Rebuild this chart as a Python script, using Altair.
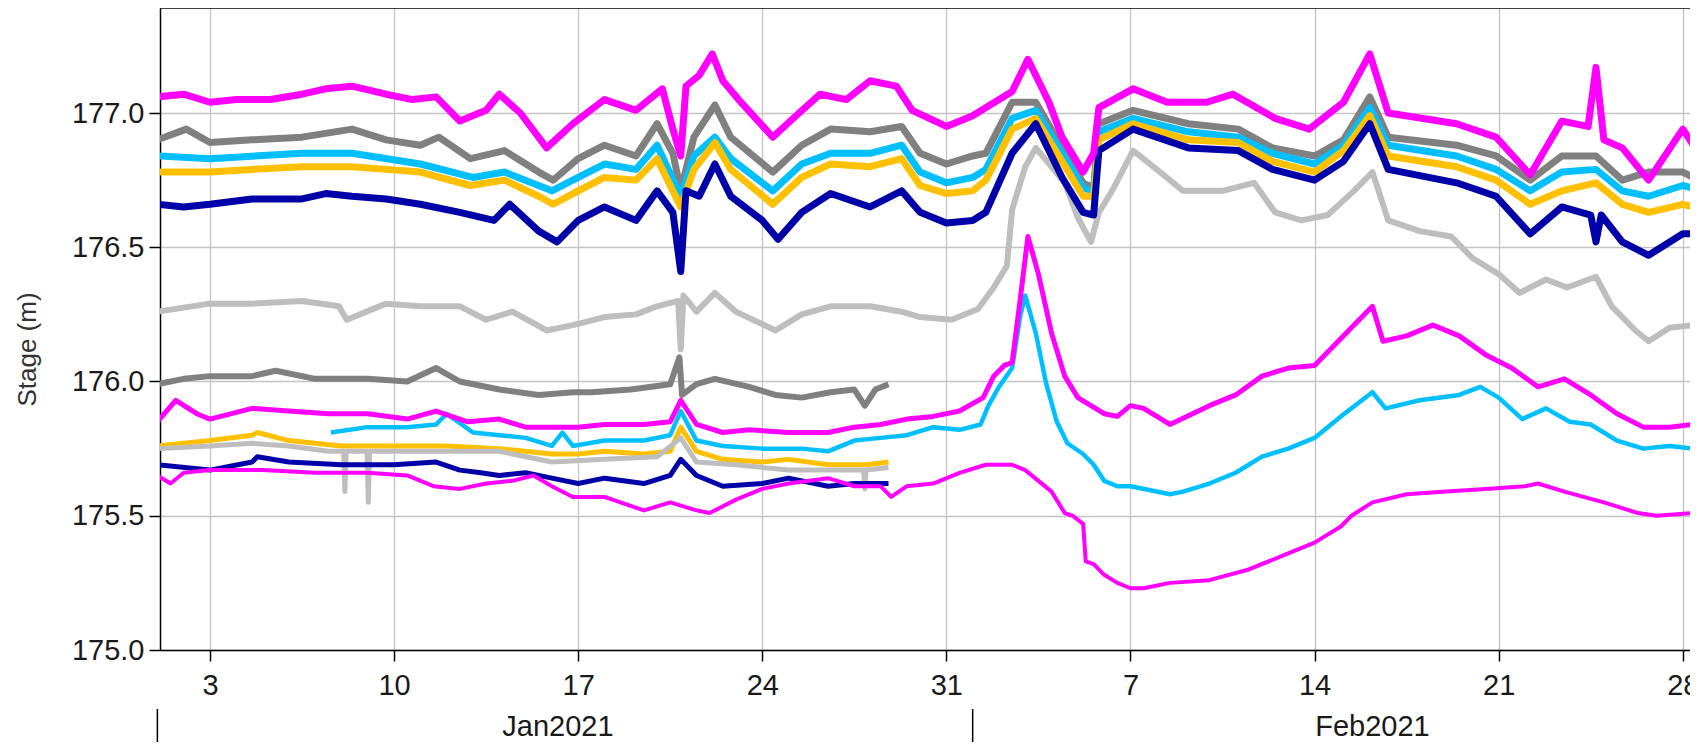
import altair as alt
import pandas as pd

# ---------------- data: days since 2021-01-01 00:00 UTC, stage (m) ----------------
mag_hi_days = [0, 1, 2, 3, 4.3, 5.5, 6.4, 7.4, 8.7, 9.7, 10.6, 11.5, 12.5, 13.0, 13.8, 14.8, 15.8, 17.0, 18.2, 19.2,
               19.6, 19.9, 20.1, 20.6, 21.1, 21.5, 22.1, 23.4, 24.4, 25.2, 26.2, 27.1, 28.1, 28.7, 30.0, 31.0, 32.5, 33.1,
               33.9, 34.4, 35.2, 35.6, 35.8, 37.1, 38.4, 39.9, 40.9, 42.5, 43.8, 45.1, 46.1, 46.8, 49.4, 50.9, 52.2, 53.4,
               54.4, 54.7, 55.0, 55.7, 56.7, 58.0, 58.4]
mag_hi_stage = [177.06, 177.07, 177.04, 177.05, 177.05, 177.07, 177.09, 177.1, 177.07, 177.05, 177.06, 176.97, 177.01,
                177.07, 177.0, 176.87, 176.96, 177.05, 177.01, 177.09, 176.94, 176.84, 177.1, 177.14, 177.22, 177.12,
                177.05, 176.91, 177.0, 177.07, 177.05, 177.12, 177.1, 177.01, 176.95, 176.99, 177.08, 177.2, 177.04,
                176.91, 176.78, 176.85, 177.02, 177.09, 177.04, 177.04, 177.07, 176.98, 176.94, 177.04, 177.22, 177.0,
                176.96, 176.91, 176.77, 176.97, 176.95, 177.17, 176.9, 176.87, 176.75, 176.94, 176.88]

gray_hi_days = [0, 1.1, 2, 3.6, 5.5, 7.4, 8.7, 10.0, 10.7, 11.9, 13.2, 14.5, 15.05, 16, 17, 18.2, 19, 19.6, 19.9, 20.4,
                21.2, 21.8, 23.4, 24.5, 25.6, 27.1, 28.3, 29, 30, 31, 31.5, 32.5, 33.4, 34.4, 35.2, 35.6, 35.8, 37.1,
                39.2, 41.1, 42.4, 44, 45.1, 46.1, 46.8, 49.4, 50.9, 52.2, 53.4, 54.7, 55.7, 56.7, 58, 58.4]
gray_hi_stage = [176.9, 176.94, 176.89, 176.9, 176.91, 176.94, 176.9, 176.88, 176.91, 176.83, 176.86, 176.78, 176.75,
                 176.83, 176.88, 176.84, 176.96, 176.85, 176.71, 176.91, 177.03, 176.91, 176.78, 176.88, 176.94, 176.93,
                 176.95, 176.85, 176.81, 176.84, 176.85, 177.04, 177.04, 176.87, 176.74, 176.72, 176.96, 177.01, 176.96,
                 176.94, 176.87, 176.84, 176.9, 177.06, 176.91, 176.88, 176.84, 176.75, 176.84, 176.84, 176.75, 176.78,
                 176.78, 176.76]

cyan_hi_days = [0, 2, 5.5, 7.4, 10, 12, 13.2, 15, 16, 17, 18.2, 19, 19.9, 20.4, 21.2, 21.8, 23.4, 24.5, 25.6, 27.1,
                28.3, 29, 30, 31, 31.5, 32.5, 33.4, 34.4, 35.2, 35.6, 35.8, 37.1, 39.2, 41.1, 42.4, 44, 45.1, 46.1,
                46.8, 49.4, 50.9, 52.2, 53.4, 54.7, 55.7, 56.7, 58, 58.4]
cyan_hi_stage = [176.84, 176.83, 176.85, 176.85, 176.81, 176.76, 176.78, 176.71, 176.76, 176.81, 176.79, 176.88,
                 176.69, 176.84, 176.91, 176.83, 176.71, 176.81, 176.85, 176.85, 176.88, 176.78, 176.74, 176.76, 176.79,
                 176.98, 177.01, 176.85, 176.72, 176.71, 176.93, 176.98, 176.93, 176.91, 176.85, 176.81, 176.88, 177.02,
                 176.88, 176.84, 176.79, 176.71, 176.78, 176.79, 176.71, 176.69, 176.73, 176.72]

gold_hi_days = [0, 2, 3.6, 5.5, 7.4, 8.7, 10, 11.9, 13.2, 14.5, 15.05, 16, 17, 18.2, 19, 19.9, 20.4, 21.2, 21.8, 23.4,
                24.5, 25.6, 27.1, 28.3, 29, 30, 31, 31.5, 32.5, 33.4, 34.4, 35.2, 35.6, 35.8, 37.1, 39.2, 41.1, 42.4,
                44, 45.1, 46.1, 46.8, 49.4, 50.9, 52.2, 53.4, 54.7, 55.7, 56.7, 58, 58.4]
gold_hi_stage = [176.78, 176.78, 176.79, 176.8, 176.8, 176.79, 176.78, 176.73, 176.75, 176.69, 176.66, 176.71, 176.76,
                 176.75, 176.83, 176.65, 176.79, 176.89, 176.79, 176.66, 176.76, 176.81, 176.8, 176.83, 176.73, 176.7,
                 176.71, 176.75, 176.94, 176.98, 176.82, 176.69, 176.69, 176.9, 176.96, 176.9, 176.89, 176.82, 176.78,
                 176.86, 176.99, 176.84, 176.8, 176.75, 176.66, 176.71, 176.74, 176.66, 176.63, 176.66, 176.65]

blue_hi_days = [0, 1, 2, 3.6, 5.5, 6.4, 7.4, 8.7, 10, 11.5, 12.8, 13.4, 14.5, 15.2, 16, 17, 18.2, 19, 19.6, 19.9, 20.1,
                20.6, 21.2, 21.8, 23, 23.6, 24.5, 25.6, 27.1, 28.3, 29, 30, 31, 31.5, 32.5, 33.4, 34.4, 35.2, 35.6, 35.8,
                37.1, 39.2, 41.1, 42.4, 44, 45.1, 46.1, 46.8, 49.4, 50.9, 52.2, 53.4, 54.5, 54.7, 54.9, 55.7, 56.7, 58,
                58.4]
blue_hi_stage = [176.66, 176.65, 176.66, 176.68, 176.68, 176.7, 176.69, 176.68, 176.66, 176.63, 176.6, 176.66, 176.56,
                 176.52, 176.6, 176.65, 176.6, 176.71, 176.63, 176.41, 176.71, 176.69, 176.81, 176.69, 176.6, 176.53,
                 176.63, 176.7, 176.65, 176.71, 176.63, 176.59, 176.6, 176.63, 176.85, 176.96, 176.76, 176.63, 176.62,
                 176.86, 176.94, 176.87, 176.86, 176.79, 176.75, 176.82, 176.96, 176.79, 176.74, 176.69, 176.55, 176.65,
                 176.62, 176.52, 176.62, 176.52, 176.47, 176.55, 176.55]

lgray_mid_days = [0, 2, 3.6, 5.5, 6.9, 7.2, 8.7, 10, 11.5, 12.5, 13.5, 14.8, 15.8, 17, 18.2, 19, 19.8, 19.9, 20.0, 20.5,
                  21.2, 22, 23.5, 24.5, 25.6, 27.1, 28.3, 29, 30.2, 31.2, 31.8, 32.3, 32.5, 33, 33.4, 34, 34.5, 35, 35.5,
                  35.8, 36.3, 37.1, 38, 39, 40.5, 41.7, 42.5, 43.5, 44.5, 45.5, 46.2, 46.8, 48, 49.2, 50, 51, 51.8, 52.8,
                  53.6, 54.7, 55.3, 56.2, 56.7, 57.5, 58.4]
lgray_mid_stage = [176.26, 176.29, 176.29, 176.3, 176.28, 176.23, 176.29, 176.28, 176.28, 176.23, 176.26, 176.19,
                   176.21, 176.24, 176.25, 176.28, 176.3, 176.12, 176.32, 176.26, 176.33, 176.26, 176.19, 176.25, 176.28,
                   176.28, 176.26, 176.24, 176.23, 176.27, 176.35, 176.43, 176.64, 176.8, 176.87, 176.8, 176.74, 176.61,
                   176.52, 176.63, 176.71, 176.86, 176.79, 176.71, 176.71, 176.74, 176.63, 176.6, 176.62, 176.71, 176.78,
                   176.6, 176.56, 176.54, 176.46, 176.4, 176.33, 176.38, 176.35, 176.39, 176.28, 176.19, 176.15, 176.2,
                   176.21]

gray_lo_days = [0, 1, 2, 3.6, 4.5, 6, 8, 9.5, 10.6, 11.5, 13, 14.5, 15.8, 16.5, 18, 19.5, 19.85, 19.95, 20.5, 21.2,
                22.5, 23.5, 24.5, 25.6, 26.5, 26.9, 27.3, 27.8]
gray_lo_stage = [175.99, 176.01, 176.02, 176.02, 176.04, 176.01, 176.01, 176.0, 176.05, 176.0, 175.97, 175.95, 175.96,
                 175.96, 175.97, 175.99, 176.09, 175.95, 175.99, 176.01, 175.98, 175.95, 175.94, 175.96, 175.97, 175.91,
                 175.97, 175.99]

mag_mid_days = [0, 0.7, 1.5, 2, 3.6, 5, 6.5, 8, 9.5, 10.6, 11.8, 13, 14, 15, 16, 17, 18.5, 19.5, 19.9, 20.5, 21.5, 22.5,
                24, 25.5, 26.5, 27.5, 28.5, 29.5, 30.5, 31.4, 31.8, 32.2, 32.5, 32.8, 33.1, 33.5, 34, 34.5, 35, 35.5, 36,
                36.5, 37, 37.5, 38.5, 40, 41, 42, 43, 44, 45, 46.2, 46.6, 47.5, 48.5, 49.5, 50.5, 51.5, 52.5, 53.5, 54.5,
                55.5, 56.5, 57.5, 58.4]
mag_mid_stage = [175.85, 175.93, 175.88, 175.86, 175.9, 175.89, 175.88, 175.88, 175.86, 175.89, 175.85, 175.86, 175.83,
                 175.83, 175.83, 175.84, 175.84, 175.85, 175.93, 175.84, 175.81, 175.82, 175.81, 175.81, 175.83, 175.84,
                 175.86, 175.87, 175.89, 175.94, 176.02, 176.06, 176.07, 176.3, 176.54, 176.4, 176.18, 176.02, 175.94,
                 175.91, 175.88, 175.87, 175.91, 175.9, 175.84, 175.91, 175.95, 176.02, 176.05, 176.06, 176.16, 176.28,
                 176.15, 176.17, 176.21, 176.17, 176.1, 176.05, 175.98, 176.01, 175.95, 175.88, 175.83, 175.83, 175.84]

cyan_lo_days = [6.6, 8, 9.5, 10.6, 11, 12, 13, 14, 15, 15.4, 15.8, 17, 18.5, 19.5, 19.9, 20.5, 21.5, 23, 24.5, 25.5,
                26.5, 27.5, 28.5, 29.5, 30.5, 31.3, 31.6, 32, 32.5, 32.8, 33.0, 33.4, 33.8, 34.2, 34.6, 35.2, 35.6, 36,
                36.5, 37, 38.5, 39, 40, 41, 42, 43, 44, 45, 46.2, 46.7, 48, 49.5, 50.3, 51, 51.9, 52.8, 53.7, 54.5, 55.5,
                56.5, 57.5, 58.4]
cyan_lo_stage = [175.81, 175.83, 175.83, 175.84, 175.88, 175.81, 175.8, 175.79, 175.76, 175.81, 175.76, 175.78, 175.78,
                 175.8, 175.89, 175.78, 175.76, 175.75, 175.75, 175.74, 175.78, 175.79, 175.8, 175.83, 175.82, 175.84,
                 175.91, 175.98, 176.05, 176.24, 176.32, 176.18, 175.99, 175.85, 175.77, 175.73, 175.69, 175.63, 175.61,
                 175.61, 175.58, 175.59, 175.62, 175.66, 175.72, 175.75, 175.79, 175.87, 175.96, 175.9, 175.93, 175.95,
                 175.98, 175.94, 175.86, 175.9, 175.85, 175.84, 175.78, 175.75, 175.76, 175.75]

gold_lo_days = [0, 2, 3.6, 3.8, 5, 7, 9, 11, 13, 15, 16, 17, 18.5, 19.5, 19.9, 20.5, 21.5, 23, 24, 25.5, 27, 27.8]
gold_lo_stage = [175.76, 175.78, 175.8, 175.81, 175.78, 175.76, 175.76, 175.76, 175.75, 175.73, 175.73, 175.74, 175.73,
                 175.74, 175.83, 175.74, 175.71, 175.7, 175.71, 175.69, 175.69, 175.7]

lgray_lo_days = [0, 2, 3.6, 5, 6.5, 7.08, 7.13, 7.18, 7.97, 8.02, 8.07, 9, 11, 13, 15, 17, 19, 19.9, 20.5, 22, 24, 26,
                 26.85, 26.9, 26.95, 27.8]
lgray_lo_stage = [175.75, 175.76, 175.77, 175.76, 175.74, 175.74, 175.59, 175.74, 175.74, 175.55, 175.74, 175.74,
                  175.74, 175.74, 175.7, 175.71, 175.72, 175.79, 175.7, 175.69, 175.67, 175.67, 175.67, 175.6, 175.67,
                  175.68]

blue_lo_days = [0, 2, 3.6, 3.8, 5, 7, 9, 10.6, 11.5, 12.3, 13, 14, 15, 16, 17, 18.5, 19.5, 19.9, 20.5, 21.5, 23, 24,
                25.5, 26.5, 27.8]
blue_lo_stage = [175.69, 175.67, 175.7, 175.72, 175.7, 175.69, 175.69, 175.7, 175.67, 175.66, 175.65, 175.66, 175.64,
                 175.62, 175.64, 175.62, 175.65, 175.71, 175.65, 175.61, 175.62, 175.64, 175.61, 175.62, 175.62]

mag_lo_days = [0, 0.5, 1, 2, 4, 6, 8, 9.5, 10.5, 11.5, 12.5, 13.5, 14.3, 15, 15.8, 17, 18.5, 19.5, 20.5, 21, 22, 23, 24,
               25.5, 26.5, 27.5, 27.9, 28.5, 29.5, 30.5, 31.5, 32.5, 33, 33.5, 34, 34.5, 34.8, 35.2, 35.3, 35.6, 36, 36.5,
               37, 37.5, 38.5, 40, 41.5, 43, 44, 45, 45.4, 46.2, 47.5, 49, 50.5, 52, 52.5, 53.5, 55, 56.3, 57, 58.4]
mag_lo_stage = [175.65, 175.62, 175.66, 175.67, 175.67, 175.66, 175.66, 175.65, 175.61, 175.6, 175.62, 175.63, 175.65,
                175.61, 175.57, 175.57, 175.52, 175.55, 175.52, 175.51, 175.56, 175.6, 175.62, 175.64, 175.61, 175.61,
                175.57, 175.61, 175.62, 175.66, 175.69, 175.69, 175.67, 175.63, 175.59, 175.51, 175.5, 175.47, 175.33,
                175.32, 175.28, 175.25, 175.23, 175.23, 175.25, 175.26, 175.3, 175.36, 175.4, 175.46, 175.5, 175.55,
                175.58, 175.59, 175.6, 175.61, 175.62, 175.59, 175.55, 175.51, 175.5, 175.51]

# axis labels / ticks
tick_dates = ["2021-01-03", "2021-01-10", "2021-01-17", "2021-01-24", "2021-01-31",
              "2021-02-07", "2021-02-14", "2021-02-21", "2021-02-28"]
y_ticks = [175.0, 175.5, 176.0, 176.5, 177.0]
month_labels = ["Jan2021", "Feb2021"]
month_label_days = [15.23, 46.2]
month_starts = ["2021-01-01", "2021-02-01"]

# ---------------- helpers ----------------
BASE = pd.Timestamp("2021-01-01")


def iso(d):
    return (BASE + pd.to_timedelta(d, unit="D")).strftime("%Y-%m-%dT%H:%M:%SZ")


def ms(ts):
    return int(pd.Timestamp(ts).value // 10**6)


def ms_day(d):
    return int((BASE + pd.to_timedelta(d, unit="D")).value // 10**6)


W, H = 1530, 642
FONT = "Liberation Sans"

xscale = alt.Scale(type="utc", domain=[ms_day(0.1), ms_day(0.1 + W / 26.3)], nice=False)
yscale = alt.Scale(domain=[175.0, 175.0 + H / 268.5], nice=False, zero=False)

xaxis = alt.Axis(values=[ms(t) for t in tick_dates], labelExpr="'' + utcdate(datum.value)", title=None,
                 labelFontSize=29, labelFont=FONT, labelColor="#1a1a1a", labelPadding=10, tickSize=11,
                 tickColor="#000000", tickWidth=1.5, domainColor="#000000", domainWidth=1.5,
                 grid=True, gridColor="#c4c4c4", gridWidth=1.3, labelFlush=False)
yaxis = alt.Axis(values=y_ticks, format=".1f", title="Stage (m)", labelFontSize=29, labelFont=FONT,
                 labelColor="#1a1a1a", labelPadding=5, tickSize=11, tickColor="#000000", tickWidth=1.5,
                 domainColor="#000000", domainWidth=1.5, grid=True, gridColor="#c4c4c4", gridWidth=1.3,
                 titleFont=FONT, titleFontSize=26, titleFontWeight="normal", titleColor="#333333",
                 titleX=-120, titleY=341, labelFlush=False)

SERIES = [
    (lgray_mid_days, lgray_mid_stage, "#BEBEBE", 6),
    (gray_hi_days, gray_hi_stage, "#808080", 7),
    (cyan_hi_days, cyan_hi_stage, "#00BFFF", 7),
    (gold_hi_days, gold_hi_stage, "#FFC000", 7),
    (blue_hi_days, blue_hi_stage, "#0000A8", 7),
    (mag_hi_days, mag_hi_stage, "#FF00FF", 7),
    (gray_lo_days, gray_lo_stage, "#808080", 6),
    (gold_lo_days, gold_lo_stage, "#FFC000", 5),
    (lgray_lo_days, lgray_lo_stage, "#BEBEBE", 5),
    (blue_lo_days, blue_lo_stage, "#0000A8", 5),
    (cyan_lo_days, cyan_lo_stage, "#00BFFF", 4.5),
    (mag_mid_days, mag_mid_stage, "#FF00FF", 5),
    (mag_lo_days, mag_lo_stage, "#FF00FF", 4),
]

layers = []
for days, stage, color, width in SERIES:
    df = pd.DataFrame({"time": [iso(d) for d in days], "stage": stage})
    layers.append(
        alt.Chart(df).mark_line(color=color, strokeWidth=width, strokeJoin="round", clip=True).encode(
            x=alt.X("time:T", scale=xscale, axis=xaxis),
            y=alt.Y("stage:Q", scale=yscale, axis=yaxis),
        )
    )

# month labels below the day labels
mdf = pd.DataFrame({"time": [iso(d) for d in month_label_days], "label": month_labels})
layers.append(
    alt.Chart(mdf).mark_text(fontSize=29, font=FONT, color="#1a1a1a", align="center", baseline="alphabetic").encode(
        x=alt.X("time:T", scale=xscale, axis=xaxis),
        y=alt.value(H + 86),
        text="label:N",
    )
)

# month separators
sdf = pd.DataFrame({"time": [s + "T00:00:00Z" for s in month_starts]})
layers.append(
    alt.Chart(sdf).mark_rule(color="#000000", strokeWidth=1.5).encode(
        x=alt.X("time:T", scale=xscale, axis=xaxis),
        y=alt.value(H + 59),
        y2=alt.value(H + 92),
    )
)

# top border of plot box
layers.append(
    alt.Chart(pd.DataFrame({"a": [0]})).mark_rule(color="#000000", strokeWidth=1.5).encode(
        x=alt.value(0), x2=alt.value(W), y=alt.value(0)
    )
)

chart = alt.layer(*layers).properties(
    width=W, height=H,
    padding={"left": 152, "top": 0, "right": 0, "bottom": 92},
    autosize=alt.AutoSizeParams(type="none"),
    background="white",
).configure_view(stroke=None)

chart.save("out.html", embed_options={"renderer": "svg", "actions": False})
